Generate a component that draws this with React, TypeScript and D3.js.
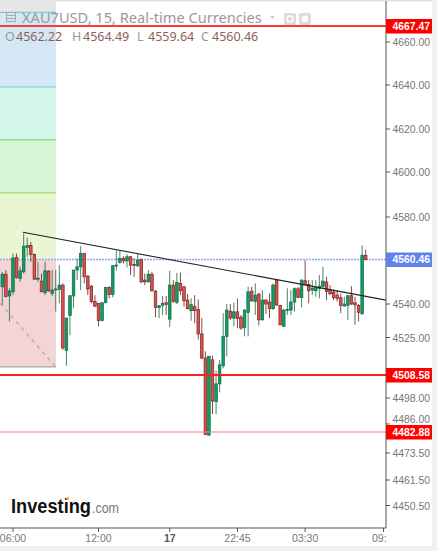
import React from "react";
import * as d3 from "d3";

const opens = [4547.9,4553.7,4543.7,4545.6,4561.4,4551.7,4554.8,4566.0,4566.9,4562.7,4551.4,4550.5,4545.2,4555.1,4544.9,4546.6,4546.7,4548.7,4519.3,4534.8,4543.7,4555.6,4557.1,4563.2,4552.8,4548.2,4541.2,4540.3,4532.6,4540.6,4547.6,4544.3,4557.6,4559.1,4560.9,4559.8,4561.7,4558.2,4557.6,4560.5,4551.0,4550.2,4553.7,4545.9,4538.4,4539.4,4540.6,4533.2,4548.7,4540.8,4549.5,4547.9,4541.8,4537.0,4538.8,4537.6,4526.6,4516.0,4481.5,4515.2,4496.3,4504.5,4512.6,4525.5,4536.8,4533.7,4536.5,4534.1,4529.5,4536.2,4545.9,4541.1,4544.6,4532.9,4541.8,4540.9,4537.9,4551.0,4539.4,4530.0,4537.2,4537.3,4540.9,4547.0,4543.0,4550.7,4549.0,4546.4,4546.1,4547.2,4548.2,4550.1,4546.4,4545.5,4544.1,4542.9,4539.1,4539.4,4543.8,4540.6,4539.4,4535.6,4562.4];
const highs = [4554.8,4555.6,4547.2,4563.2,4563.2,4557.1,4572.4,4570.5,4568.5,4563.2,4559.4,4554.0,4559.4,4555.6,4555.6,4555.6,4557.9,4549.5,4533.7,4544.1,4555.6,4560.9,4566.6,4563.5,4553.3,4548.7,4544.1,4540.6,4540.6,4547.9,4548.2,4557.9,4564.7,4564.7,4562.0,4562.9,4562.0,4560.9,4562.9,4560.9,4554.0,4555.6,4554.8,4546.4,4539.6,4543.7,4543.7,4555.3,4551.0,4554.3,4554.5,4548.2,4544.6,4542.6,4544.1,4542.1,4533.7,4518.9,4517.0,4517.0,4510.5,4515.2,4535.9,4540.0,4540.0,4540.6,4542.6,4535.1,4537.6,4547.9,4547.9,4549.5,4544.9,4546.4,4542.1,4544.9,4549.5,4551.3,4539.6,4537.6,4547.2,4546.4,4547.6,4547.9,4551.3,4560.1,4551.0,4551.0,4551.0,4553.3,4557.1,4552.5,4548.7,4546.7,4546.4,4544.9,4543.3,4544.1,4548.2,4543.3,4540.0,4567.0,4565.0];
const lows = [4539.6,4543.1,4532.2,4544.1,4551.7,4550.2,4554.0,4561.7,4559.4,4551.3,4550.2,4545.6,4544.1,4545.6,4543.7,4536.6,4540.3,4519.6,4512.6,4526.0,4538.1,4551.0,4546.4,4549.5,4544.1,4540.3,4538.5,4530.0,4532.2,4540.3,4542.6,4543.1,4555.3,4558.6,4558.6,4556.8,4553.3,4552.5,4556.8,4549.5,4548.7,4549.8,4545.6,4534.1,4533.7,4535.1,4535.1,4529.7,4540.6,4540.0,4544.1,4538.8,4537.6,4532.5,4531.4,4524.1,4515.5,4481.5,4481.2,4490.6,4490.6,4500.6,4511.5,4516.7,4532.9,4530.0,4529.2,4528.5,4525.5,4525.5,4541.1,4535.1,4530.4,4532.6,4535.6,4533.7,4537.3,4539.1,4530.4,4529.7,4535.1,4535.1,4536.6,4542.6,4538.5,4548.7,4540.3,4544.1,4543.3,4542.6,4547.2,4541.8,4544.1,4541.8,4541.1,4535.9,4538.8,4532.9,4539.6,4530.7,4532.2,4535.3,4560.1];
const closes = [4553.7,4543.4,4546.0,4561.2,4552.2,4555.3,4566.6,4566.9,4562.7,4551.4,4551.9,4545.6,4555.3,4546.1,4546.4,4546.9,4548.7,4520.4,4533.7,4543.8,4555.6,4557.1,4563.2,4552.5,4546.9,4541.1,4539.1,4532.6,4540.6,4547.6,4544.3,4557.6,4557.9,4560.9,4559.8,4561.7,4557.9,4557.7,4560.1,4550.2,4550.2,4553.7,4546.1,4538.4,4539.2,4540.3,4539.8,4548.7,4541.1,4549.9,4546.1,4541.5,4537.9,4539.7,4537.0,4526.6,4516.0,4481.8,4516.7,4496.6,4504.5,4513.0,4525.5,4537.3,4533.7,4536.5,4533.5,4529.2,4537.3,4545.6,4541.4,4544.1,4532.9,4541.8,4540.0,4537.9,4548.7,4539.6,4530.7,4537.3,4537.6,4540.9,4547.0,4543.0,4551.0,4549.0,4546.1,4547.3,4547.6,4548.2,4550.5,4545.8,4544.7,4542.9,4542.6,4539.4,4540.0,4543.8,4540.0,4539.6,4536.3,4562.4,4560.46];

const priceTicks = [4660, 4640, 4620, 4600, 4580, 4540, 4525, 4498, 4486, 4473.5, 4461.5, 4450.5];
const scaleKnots = [4667.47, 4660, 4640, 4620, 4600, 4580, 4540, 4525, 4508.58, 4498, 4486, 4482.88, 4473.5, 4461.5, 4450.5];
const scalePixels = [26, 42, 85, 129, 172, 217, 304, 337.5, 375, 398, 424, 432, 453, 480, 505.5];

const timeLabels = ["06:00", "12:00", "17", "22:45", "03:30", "09:"];
const timeIndex = [3, 27, 47, 66, 85, 107];

const fibLevels = [4673.8, 4639.1, 4614.9, 4590.7, 4560.5, 4512.1];
const fibColors = ["#d3e8f4", "#d4f5ea", "#d8f4d6", "#e9f5d3", "#f4d5d5"];
const fibLineColors = ["#8cc1dd", "#74d8b4", "#74dd78", "#a5de6a", "#c9c2c2", "#a8a8a8"];

const levelPrices = [4667.47, 4508.58, 4482.88];
const levelWidths = [2, 2.2, 1.2];
const levelColors = ["#ff3a3a", "#ff1c1c", "#ff7c7c"];
const lastPrice = 4560.46;
const trendIndex = [5.8, 107.7];
const trendPrice = [4573, 4541.8];
const dashIndex = [-0.6, 15];
const dashPrice = [4540.3, 4512.1];
const ohlcLabels = ["O", "H", "L", "C"];
const ohlcValues = ["4562.22", "4564.49", "4559.64", "4560.46"];

const x = d3.scaleLinear().domain([0, 102]).range([2.3, 365.7]);
const y = d3.scaleLinear().domain(scaleKnots).range(scalePixels);

const SANS = "'Liberation Sans', Arial, sans-serif";
const AXIS = 386;
const PLOT_BOTTOM = 528;
const ZONE_W = 56;

export default function App() {
  const ohlcX = [5, 72, 137, 201];
  return (
    <svg width={437} height={551} viewBox="0 0 437 551" style={{ position: "absolute", left: 0, top: 0, background: "#fff" }}>
      <defs>
        <clipPath id="plot"><rect x={0} y={0} width={AXIS} height={PLOT_BOTTOM} /></clipPath>
      </defs>
      <rect x={0} y={0} width={437} height={1.5} fill="#dfe3e8" />
      <rect x={432} y={0} width={5} height={551} fill="#eef1f6" />
      <rect x={0} y={546} width={437} height={5} fill="#eef1f6" />
      <rect x={0} y={1.5} width={ZONE_W} height={y(fibLevels[0]) - 1.5} fill="#e6e6e6" />
      {fibColors.map((c, i) => (
        <rect key={i} x={0} y={y(fibLevels[i])} width={ZONE_W} height={y(fibLevels[i + 1]) - y(fibLevels[i])} fill={c} />
      ))}
      {fibLevels.map((p, i) => (
        <line key={i} x1={0} x2={ZONE_W} y1={y(p)} y2={y(p)} stroke={fibLineColors[i]} strokeWidth={i === 4 ? 0 : 1.2} />
      ))}
      <g clipPath="url(#plot)">
        <line x1={x(dashIndex[0])} x2={x(dashIndex[1])} y1={y(dashPrice[0])} y2={y(dashPrice[1])} stroke="#b5a5a5" strokeWidth={1.2} strokeDasharray="4 4" />
        <line x1={0} x2={AXIS} y1={y(lastPrice)} y2={y(lastPrice)} stroke="#8ea6f0" strokeWidth={1.4} strokeDasharray="2 1" />
        {opens.map((o, i) => {
          const up = closes[i] >= o;
          const top = y(Math.max(o, closes[i]));
          const bot = y(Math.min(o, closes[i]));
          return (
            <g key={i}>
              <line x1={x(i)} x2={x(i)} y1={y(highs[i])} y2={y(lows[i])} stroke={up ? "#2c6e52" : "#6b2a2a"} strokeWidth={1} strokeOpacity={0.85} />
              <rect x={x(i) - 1.3} y={top} width={2.6} height={Math.max(bot - top, 1)} fill={up ? "#0f9d63" : "#d9544f"} stroke={up ? "#0c6a45" : "#7c2020"} strokeWidth={0.7} />
            </g>
          );
        })}
        <line x1={x(trendIndex[0])} x2={x(trendIndex[1])} y1={y(trendPrice[0])} y2={y(trendPrice[1])} stroke="#222" strokeWidth={1.1} />
        {levelPrices.map((p, i) => (
          <line key={i} x1={0} x2={AXIS} y1={y(p)} y2={y(p)} stroke={levelColors[i]} strokeWidth={levelWidths[i]} />
        ))}
      </g>

      {/* header */}
      <g stroke="#a8a8a8" fill="none" strokeWidth={1}>
        <rect x={6.5} y={12.5} width={9} height={9} />
        <line x1={6.5} x2={15.5} y1={15.5} y2={15.5} />
        <line x1={6.5} x2={15.5} y1={18.5} y2={18.5} />
      </g>
      <text x={22} y={23} fontFamily="'Noto Sans', sans-serif" fontSize={14.6} fill="#999">XAU7USD, 15, Real-time Currencies</text>
      <path d="M270 16 L275 16 L272.5 19 Z" fill="#ccc" />
      <rect x={284} y={13} width={12} height={12} rx={2} fill="#dcdcdc" />
      <circle cx={290} cy={19} r={3} fill="none" stroke="#fff" strokeWidth={1.4} />
      <rect x={299} y={13} width={12} height={12} rx={2} fill="#dcdcdc" />
      <circle cx={305} cy={19} r={3.2} fill="#fff" />
      {ohlcLabels.map((l, i) => (
        <g key={l} fontFamily="'Noto Sans', sans-serif" fontSize={12.5}>
          <text x={ohlcX[i]} y={41} fill="#999">{l}</text>
          <text x={ohlcX[i] + 11} y={41} fill="#8e5e5b">{ohlcValues[i]}</text>
        </g>
      ))}

      {/* price axis */}
      <line x1={AXIS} x2={AXIS} y1={1} y2={PLOT_BOTTOM} stroke="#555" strokeWidth={1} />
      {priceTicks.map((t) => (
        <g key={t}>
          <line x1={AXIS} x2={AXIS + 4} y1={y(t)} y2={y(t)} stroke="#555" />
          {t !== 4486 && <text x={392.5} y={y(t) + 4} fontFamily={SANS} fontSize={10.4} fill="#777">{d3.format(".2f")(t)}</text>}
        </g>
      ))}
      <text x={392.5} y={y(4486) - 1} fontFamily={SANS} fontSize={10.4} fill="#777">{d3.format(".2f")(4486)}</text>
      {levelPrices.map((p) => (
        <g key={p}>
          <rect x={AXIS} y={y(p) - 7} width={46} height={14.5} fill="#ff0000" />
          <text x={392.5} y={y(p) + 4} fontFamily={SANS} fontSize={10.4} fontWeight={700} fill="#fff">{d3.format(".2f")(p)}</text>
        </g>
      ))}
      <rect x={AXIS} y={y(lastPrice) - 7} width={46} height={14.5} fill="#5e83ea" />
      <text x={392.5} y={y(lastPrice) + 4} fontFamily={SANS} fontSize={10.4} fontWeight={700} fill="#fff">{d3.format(".2f")(lastPrice)}</text>

      {/* time axis */}
      <line x1={0} x2={AXIS} y1={PLOT_BOTTOM} y2={PLOT_BOTTOM} stroke="#555" />
      {timeLabels.map((t, i) => {
        const px = x(timeIndex[i]);
        return (
          <g key={t}>
            <line x1={px} x2={px} y1={PLOT_BOTTOM} y2={PLOT_BOTTOM + 4} stroke="#555" />
            <text x={t === "09:" ? 372 : px} y={542} textAnchor={t === "09:" ? "start" : "middle"} fontFamily={SANS} fontSize={10.5} fill={t === "17" ? "#555" : "#777"} fontWeight={t === "17" ? 700 : 400}>{t}</text>
          </g>
        );
      })}

      {/* logo */}
      <text x={11} y={513} fontFamily={SANS} fontWeight={700} fontSize={20} fill="#111" textLength={80} lengthAdjust="spacingAndGlyphs">Investing</text>
      <text x={92} y={513} fontFamily={SANS} fontSize={14} fill="#777" textLength={27} lengthAdjust="spacingAndGlyphs">.com</text>
      <circle cx={67.5} cy={498.5} r={1.5} fill="#f5a623" />
    </svg>
  );
}
